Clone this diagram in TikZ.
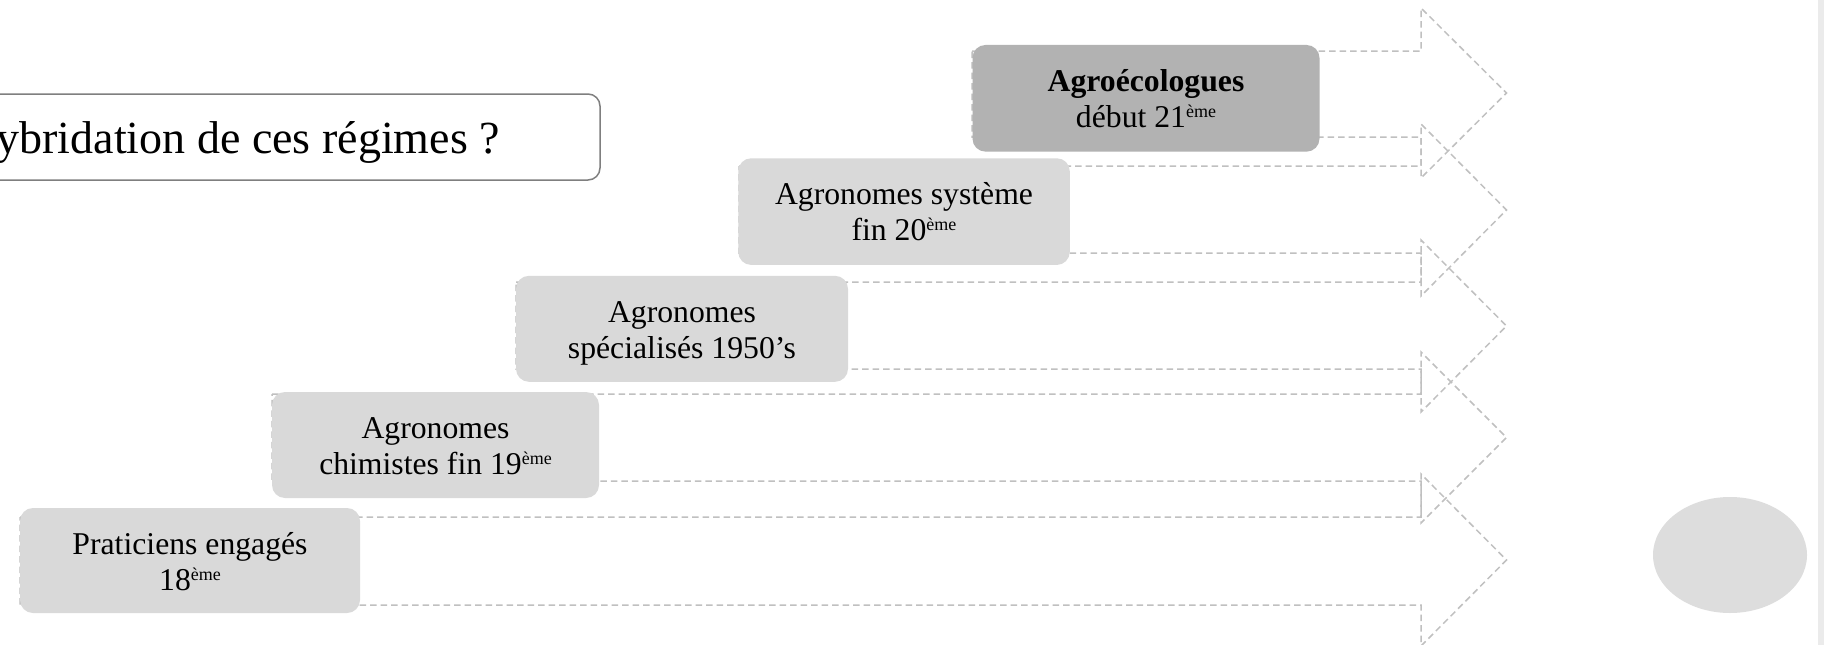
\documentclass[tikz,border=0pt]{standalone}
\usepackage{fontspec}
\setmainfont{Liberation Serif}
\definecolor{boxgray}{HTML}{D9D9D9}
\definecolor{darkbox}{HTML}{B2B2B2}
\definecolor{dashgray}{HTML}{C0C0C0}
\definecolor{framegray}{HTML}{7F7F7F}
\definecolor{ellgray}{HTML}{DDDDDD}
\definecolor{bargray}{HTML}{EBEBEB}
\newcommand\expo[1]{\raisebox{10pt}{\fontsize{18}{18}\selectfont #1}}
\begin{document}
\begin{tikzpicture}[x=1pt,y=-1pt,
  arrowshape/.style={draw=dashgray, line width=1.5pt, dash pattern=on 6.5pt off 4pt, line join=miter},
  stepbox/.style={fill=boxgray, draw=none, rounded corners=13pt, inner sep=0pt},
  darkstep/.style={stepbox, fill=darkbox},
  txt/.style={anchor=base, inner sep=0pt, font=\fontsize{31.7}{36}\selectfont},
  titlebox/.style={draw=framegray, line width=1.5pt, fill=white, rounded corners=12pt, inner sep=0pt},
  titletxt/.style={anchor=base east, inner sep=0pt, font=\fontsize{46}{50}\selectfont}]
\useasboundingbox (0,0) rectangle (1824,645);
\clip (0,0) rectangle (1824,645);
\fill[white] (0,0) rectangle (1824,645);
% right bar
\fill[bargray] (1818,0) rectangle (1824,645);
% ellipse
\fill[ellgray] (1730,555) ellipse [x radius=77pt, y radius=58pt];
% title box
\node[titlebox, minimum width=900pt, minimum height=86pt] (tbox) at (150,137) {};
\node[titletxt] (ttext) at (500,153) {Hybridation de ces régimes ?};
% arrows
\draw[arrowshape] (972,51) -- (1421,51) -- (1421,8) -- (1506.5,93) -- (1421,178) -- (1421,137) -- (972,137) -- cycle;
\draw[arrowshape] (739,166) -- (1421,166) -- (1421,124) -- (1506.5,210) -- (1421,296) -- (1421,253) -- (739,253) -- cycle;
\draw[arrowshape] (516,282) -- (1421,282) -- (1421,240) -- (1506.5,326) -- (1421,412) -- (1421,369) -- (516,369) -- cycle;
\draw[arrowshape] (272,394) -- (1421,394) -- (1421,352) -- (1506.5,437.5) -- (1421,523) -- (1421,481) -- (272,481) -- cycle;
\draw[arrowshape] (20,517) -- (1421,517) -- (1421,474) -- (1506.5,560) -- (1421,646) -- (1421,605) -- (20,605) -- cycle;
% boxes
\node[stepbox, minimum width=340pt, minimum height=105pt] (b1) at (190,560.5) {};
\node[stepbox, minimum width=327pt, minimum height=106pt] (b2) at (435.5,445) {};
\node[stepbox, minimum width=332pt, minimum height=106pt] (b3) at (682,328.8) {};
\node[stepbox, minimum width=331.5pt, minimum height=106.7pt] (b4) at (904,211.6) {};
\node[darkstep, minimum width=347pt, minimum height=106.7pt] (b5) at (1146,98.3) {};
% texts
\node[txt] (b1a) at (190,554) {Praticiens engagés};
\node[txt] (b1b) at (190,590.3) {18\expo{ème}};
\node[txt] (b2a) at (435.5,438) {Agronomes};
\node[txt] (b2b) at (435.5,474.3) {chimistes fin 19\expo{ème}};
\node[txt] (b3a) at (682,322) {Agronomes};
\node[txt] (b3b) at (682,358.3) {spécialisés 1950’s};
\node[txt] (b4a) at (904,204.3) {Agronomes système};
\node[txt] (b4b) at (904,240.6) {fin 20\expo{ème}};
\node[txt] (b5a) at (1146,91) {\textbf{Agroécologues}};
\node[txt] (b5b) at (1146,127.3) {début 21\expo{ème}};
\end{tikzpicture}
\end{document}
